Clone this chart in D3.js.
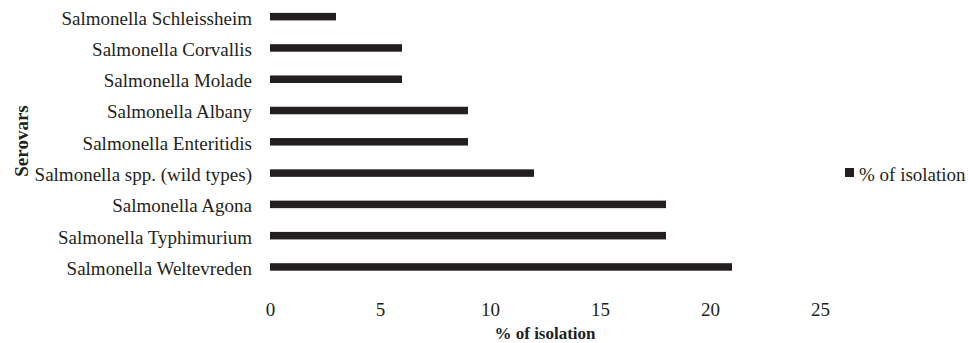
<!DOCTYPE html>
<html><head><meta charset="utf-8">
<script src="https://cdn.jsdelivr.net/npm/d3@7"></script>
<style>body{margin:0;background:#fff}svg{display:block}text{font-family:"Liberation Serif","Times New Roman",serif;fill:#231f20}</style>
</head><body>
<svg id="c" width="968" height="343"></svg>
<script>
const categories = ["Salmonella Schleissheim","Salmonella Corvallis","Salmonella Molade","Salmonella Albany","Salmonella Enteritidis","Salmonella spp. (wild types)","Salmonella Agona","Salmonella Typhimurium","Salmonella Weltevreden"];
const values = [3,6,6,9,9,12,18,18,21];
const xTicks = [0,5,10,15,20,25];
const seriesName = "% of isolation";
const xTitle = "% of isolation";
const yTitle = "Serovars";

const svg = d3.select("#c");
const x = d3.scaleLinear().domain([0,25]).range([270,820]);
const y = d3.scaleBand().domain(categories).range([1,282.6]).paddingInner(0.76).paddingOuter(0.38);

svg.append("g").selectAll("rect").data(values).join("rect")
  .attr("x", x(0)).attr("y",(d,i)=>y(categories[i]))
  .attr("width", d=>x(d)-x(0)).attr("height", y.bandwidth())
  .attr("fill","#231f20");

const yAx = svg.append("g").attr("transform","translate(270,0)")
  .call(d3.axisLeft(y).tickSize(0).tickPadding(18));
yAx.select(".domain").remove();
yAx.selectAll("text").attr("font-size","19px").attr("dy","0.42em").attr("fill","#231f20");

const xAx = svg.append("g").attr("transform","translate(0,302)")
  .call(d3.axisBottom(x).tickValues(xTicks).tickSize(0).tickPadding(0));
xAx.select(".domain").remove();
xAx.selectAll("text").attr("font-size","19px").attr("fill","#231f20");

svg.append("text").attr("x",x(12.5)).attr("y",339).attr("text-anchor","middle")
  .attr("font-size","17px").attr("font-weight","bold").text(xTitle);
svg.append("text").attr("transform","translate(28,141) rotate(-90)").attr("text-anchor","middle")
  .attr("font-size","19px").attr("font-weight","bold").text(yTitle);

svg.append("rect").attr("x",845).attr("y",168).attr("width",9).attr("height",9).attr("fill","#231f20");
svg.append("text").attr("x",859).attr("y",181).attr("font-size","19px").text(seriesName);
</script>
</body></html>
